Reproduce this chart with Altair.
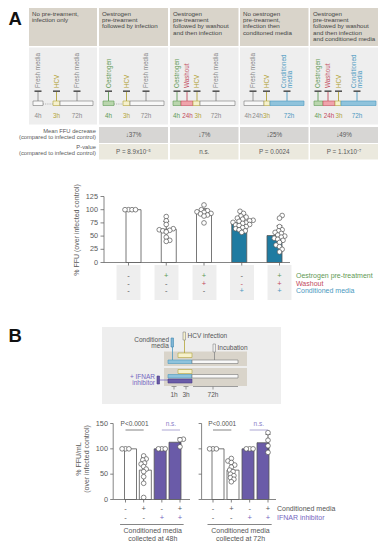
import altair as alt
import pandas as pd
import numpy as np

FONT = "Liberation Sans"
GRAY = "#5a5a5a"
M = 8
W, H = 370, 534

# ------------------------------------------------------------------ data
scenario_titles = [
    ["No pre-treament,", "infection only"],
    ["Oestrogen", "pre-treament", "followed by infection"],
    ["Oestrogen", "pre-treament", "followed by washout", "and then infection"],
    ["No oestrogen", "pre-treament,", "infection then", "conditoned media"],
    ["Oestrogen", "pre-treament", "followed by washout", "and then infection", "and conditioned media"],
]
row_labels = [["Mean FFU decrease", "(compared to infected control)"],
              ["P-value", "(compared to infected control)"]]
mean_decrease = ["↓37%", "↓7%", "↓25%", "↓49%"]
p_values = ["P = 8.9x10⁻⁵", "n.s.", "P = 0.0024", "P = 1.1x10⁻⁷"]

a_means = [100, 63, 93, 75, 51]
a_points = [
    [100, 100, 100, 100],
    [87, 79, 72, 64, 62, 61, 60, 58, 48, 42, 40],
    [109, 100, 98, 96, 95, 93, 92, 90, 88, 75],
    [97, 93, 88, 86, 84, 82, 80, 79, 78, 76, 75, 74, 72, 71, 70, 68, 66, 64, 62, 60, 57],
    [89, 84, 68, 62, 60, 57, 55, 52, 50, 48, 46, 44, 42, 38, 33, 30, 25, 20],
]
a_filled = [False, False, False, True, True]
a_ticks = [0, 25, 50, 75, 100, 125]
a_ytitle = "% FFU (over infected control)"
a_rows = ["Oestrogen pre-treatment", "Washout", "Conditioned media"]
a_signs = [["-", "+", "+", "-", "+"],
           ["-", "-", "+", "-", "+"],
           ["-", "-", "-", "+", "+"]]

b_groups = ["Conditioned media|collected at 48h", "Conditioned media|collected at 72h"]
b_means = [[100, 58, 100, 113], [100, 58, 100, 112]]
b_points = [
    [[100, 100, 100], [86, 80, 78, 72, 70, 65, 60, 55, 45, 32, 4], [100, 100, 100], [119, 118, 104]],
    [[100, 100, 100], [81, 76, 73, 68, 64, 58, 55, 50, 47, 43, 40, 35], [100, 100, 100], [132, 117, 106, 93]],
]
b_filled = [False, False, True, True]
b_ticks = [0, 50, 100, 150]
b_ytitle = ["% FFU/mL", "(over infected control)"]
b_rows = ["Conditioned media", "IFNAR inhibitor"]
b_signs = [["-", "+", "-", "+"], ["-", "-", "+", "+"]]
b_sig = [["P<0.0001", "n.s."], ["P<0.0001", "n.s."]]

# ------------------------------------------------------------------ style
TEAL = "#1f7ba1"
PURPLE = "#6a5ba8"
TAN = "#d9d4ca"
LIGHT = "#eeeeee"
C = {
    "green": ("#5f9a55", "#b9d6ad"),
    "red": ("#c24a5c", "#f0a3ab"),
    "yellow": ("#b3a43a", "#f6f1cc"),
    "gray": ("#8a8a8a", "#f8f8f8"),
    "blue": ("#4a98c0", "#8fc3dc"),
    "purple": ("#7565c0", "#6a5ba8"),
}

XS = alt.Scale(domain=[M, M + W], range=[0, W], nice=False, zero=False)
YS = alt.Scale(domain=[M, M + H], range=[0, H], nice=False, zero=False)
PX = alt.Scale(domain=[0, H], range=[0, H], nice=False, zero=False)

layers = []


def T(rows, align="center", baseline="middle", size=6.5, angle=0, style="normal", weight="normal"):
    df = pd.DataFrame(rows, columns=["x", "y", "t", "c"])
    return alt.Chart(df).mark_text(align=align, baseline=baseline, fontSize=size, angle=angle,
                                   fontStyle=style, fontWeight=weight, font=FONT).encode(
        x=alt.X("x:Q", scale=XS, axis=None), y=alt.Y("y:Q", scale=YS, axis=None),
        text="t:N", color=alt.Color("c:N", scale=None))


def R(rows, width=0.8, dash=None):
    df = pd.DataFrame(rows, columns=["x", "y", "x2", "y2", "c"])
    mk = dict(strokeWidth=width)
    if dash:
        mk["strokeDash"] = dash
    return alt.Chart(df).mark_rule(**mk).encode(
        x=alt.X("x:Q", scale=XS, axis=None), y=alt.Y("y:Q", scale=YS, axis=None),
        x2="x2:Q", y2="y2:Q", color=alt.Color("c:N", scale=None))


def BX(rows, sw=0.6):
    df = pd.DataFrame(rows, columns=["x", "y", "x2", "y2", "f", "s"])
    return alt.Chart(df).mark_rect(strokeWidth=sw).encode(
        x=alt.X("x:Q", scale=XS, axis=None), y=alt.Y("y:Q", scale=YS, axis=None),
        x2="x2:Q", y2="y2:Q", fill=alt.Fill("f:N", scale=None), stroke=alt.Stroke("s:N", scale=None))


def POLY(rows, color):
    df = pd.DataFrame(rows, columns=["id", "k", "y", "xl", "xr"])
    return alt.Chart(df).mark_area(orient="horizontal", color=color).encode(
        y=alt.Y("y:Q", scale=YS, axis=None), x=alt.X("xl:Q", scale=XS, axis=None),
        x2="xr:Q", detail="id:N", order="k:Q")


def swarm(vals, ky, kx, d):
    placed, offs = [], [0.0] * len(vals)
    flip = 1
    for i in sorted(range(len(vals)), key=lambda k: vals[k]):
        y = vals[i] * ky
        best = None
        for step in range(0, 60):
            for sgn in ([0] if step == 0 else [flip, -flip]):
                x = sgn * step * d * 0.25
                if all((x - px) ** 2 + (y - py) ** 2 >= d ** 2 for px, py in placed):
                    best = x
                    break
            if best is not None:
                break
        if best != 0:
            flip = -flip
        placed.append((best, y))
        offs[i] = best / kx
    return offs


# ------------------------------------------------------------------ panel A header table
cols = [(29, 97), (99, 168), (170, 238.5), (240, 308.5), (310, 378)]
ctr = [(a + b) / 2 for a, b in cols]
a_bx = [128.5, 166.5, 204.5, 242, 279.5]   # bar centres (px) for funnel shapes

fun = []
for j, ((a, b), bc) in enumerate(zip(cols, a_bx)):
    fun += [(j, 0, 160, a, b), (j, 1, 172, a + (bc - 12 - a) * 0.25, b + (bc + 12 - b) * 0.25),
            (j, 2, 206, bc - 12, bc + 12)]
layers.append(POLY(fun, "#efefef"))
layers.append(BX([(bc - 12, 265, bc + 12, 300, "#eeeeee", "transparent") for bc in a_bx]))

layers.append(BX([(a, 8, b, 46, TAN, "transparent") for a, b in cols]))
layers.append(BX([(a, 47.5, b, 124.5, LIGHT, "transparent") for a, b in cols]))
layers.append(BX([(a, 127, b, 143, "#d7d6d4", "transparent") for a, b in cols[1:]]
                 + [(a, 144, b, 159.5, "#ebe9de", "transparent") for a, b in cols[1:]]))

title_rows = []
for (a, b), lines in zip(cols, scenario_titles):
    for k, ln in enumerate(lines):
        title_rows.append((a + 3, 13.5 + k * 6.4, ln, "#444444"))
layers.append(T(title_rows, align="left", size=6.2))

lab_rows = []
for r, lines in enumerate(row_labels):
    base = 131 if r == 0 else 147
    lab_rows += [(96, base, lines[0], GRAY), (96, base + 5.6, lines[1], GRAY)]
layers.append(T(lab_rows, align="right", size=5.8))
layers.append(T([(c, 135, v, GRAY) for c, v in zip(ctr[1:], mean_decrease)]
                + [(c, 151.5, v, GRAY) for c, v in zip(ctr[1:], p_values)], size=6.3))

diagrams = [
    dict(boxes=[(33, 43, "gray"), (53, 60, "yellow"), (60, 93, "gray")], dots=[(43, 53)],
         labels=[(38, "Fresh media", "gray"), (56.5, "HCV", "yellow"), (77, "Fresh media", "gray")],
         times=[(38, "4h", "gray"), (56.5, "3h", "yellow"), (77, "72h", "gray")]),
    dict(boxes=[(103, 114, "green"), (123, 130, "yellow"), (130, 164, "gray")], dots=[(114, 123)],
         labels=[(108.5, "Oestrogen", "green"), (126.5, "HCV", "yellow"), (146, "Fresh media", "gray")],
         times=[(108.5, "4h", "green"), (126.5, "3h", "yellow"), (146, "72h", "gray")]),
    dict(boxes=[(173, 181, "green"), (181, 193, "red"), (193, 200, "yellow"), (200, 235, "gray")], dots=[],
         labels=[(177, "Oestrogen", "green"), (187, "Washout", "red"), (197, "HCV", "yellow"),
                 (216, "Fresh media", "gray")],
         times=[(176.5, "4h", "green"), (187.5, "24h", "red"), (198, "3h", "yellow"), (216, "72h", "gray")]),
    dict(boxes=[(244, 264, "gray"), (264, 270, "yellow"), (270, 304, "blue")], dots=[],
         labels=[(253, "Fresh media", "gray"), (266.5, "HCV", "yellow"), (287, "Conditioned|media", "blue")],
         times=[(248, "4h", "gray"), (257.5, "24h", "gray"), (266.5, "3h", "yellow"), (289, "72h", "blue")]),
    dict(boxes=[(314, 323, "green"), (323, 335, "red"), (335, 341, "yellow"), (341, 376, "blue")], dots=[],
         labels=[(318, "Oestrogen", "green"), (328, "Washout", "red"), (338.5, "HCV", "yellow"),
                 (357, "Conditioned|media", "blue")],
         times=[(318, "4h", "green"), (329, "24h", "red"), (339, "3h", "yellow"), (357, "72h", "blue")]),
]
box_rows, dot_rows, stem_rows, bar_rows, lab_r, time_r = [], [], [], [], [], []
for d in diagrams:
    for x1, x2, c in d["boxes"]:
        box_rows.append((x1, 101, x2, 105.5, C[c][1], C[c][0] if c != "gray" else "#777777"))
    for x1, x2 in d["dots"]:
        dot_rows.append((x1, 104, x2, 104, "#999999"))
    for x, t, c in d["labels"]:
        stem_rows.append((x, 91.5, x, 101, C[c][0]))
        bar_rows.append((x - 3.5, 91.2, x + 3.5, 91.2, "#555555"))
        parts = t.split("|")
        if len(parts) == 1:
            lab_r.append((x, 88, t, C[c][0]))
        else:
            lab_r.append((x - 3, 88, parts[0], C[c][0]))
            lab_r.append((x + 3, 88, parts[1], C[c][0]))
    for x, t, c in d["times"]:
        time_r.append((x, 116, t, C[c][0]))
layers.append(R(dot_rows, width=0.8, dash=[1, 1.2]))
layers.append(R(stem_rows, width=0.9))
layers.append(R(bar_rows, width=1.6))
layers.append(BX(box_rows, sw=0.6))
layers.append(T(lab_r, align="left", size=6.3, angle=270))
layers.append(T(time_r, size=6.3))

layers.append(T([(8.5, 25, "A", "#111111"), (8.5, 341.5, "B", "#111111")], align="left",
                baseline="alphabetic", size=18.5, weight="bold"))

# ------------------------------------------------------------------ panel A bar chart
AX = alt.Scale(domain=[0, 4], range=[128.5 - M, 279.5 - M], nice=False, zero=False)
AY = alt.Scale(domain=[0, 125], range=[262.5 - M, 196.5 - M], nice=False, zero=False)
a_kx = (279.5 - 128.5) / 4
a_ky = 66 / 125

dfA = pd.DataFrame({"i": range(5), "mean": a_means, "zero": 0,
                    "fill": [TEAL if f else "white" for f in a_filled]})
sd = [float(np.std(p, ddof=1)) for p in a_points]
dfA["lo"] = [m - s for m, s in zip(a_means, sd)]
dfA["hi"] = [m + s for m, s in zip(a_means, sd)]
dfA["cl"] = dfA["i"] - 3 / a_kx
dfA["cr"] = dfA["i"] + 3 / a_kx

layers.append(alt.Chart(dfA).mark_bar(size=15, stroke="#555555", strokeWidth=0.8).encode(
    x=alt.X("i:Q", scale=AX, axis=None), y=alt.Y("mean:Q", scale=AY, axis=None), y2="zero:Q",
    fill=alt.Fill("fill:N", scale=None)))
layers.append(alt.Chart(dfA).mark_rule(color="#444444", strokeWidth=0.8).encode(
    x=alt.X("i:Q", scale=AX, axis=None), y=alt.Y("lo:Q", scale=AY, axis=None), y2="hi:Q"))
layers.append(alt.Chart(dfA).mark_rule(color="#444444", strokeWidth=0.8).encode(
    x=alt.X("cl:Q", scale=AX, axis=None), x2="cr:Q", y=alt.Y("hi:Q", scale=AY, axis=None)))

pts = []
for i, vals in enumerate(a_points):
    offs = swarm(vals, a_ky, a_kx, 3.5)
    pts += [{"x": i + o, "v": v} for v, o in zip(vals, offs)]
layers.append(alt.Chart(pd.DataFrame(pts)).mark_circle(size=22, fill="white", stroke="#555555",
                                                       strokeWidth=0.7, opacity=1).encode(
    x=alt.X("x:Q", scale=AX, axis=None), y=alt.Y("v:Q", scale=AY, axis=None)))

dft = pd.DataFrame({"v": a_ticks, "t": [str(v) for v in a_ticks]})
layers.append(alt.Chart(dft).mark_rule(color="#666666", strokeWidth=0.8).encode(
    x=alt.value(100.5 - M), x2=alt.value(104 - M), y=alt.Y("v:Q", scale=AY, axis=None)))
layers.append(alt.Chart(dft).mark_text(align="right", baseline="middle", fontSize=7.3, font=FONT,
                                       color=GRAY).encode(
    x=alt.value(98 - M), y=alt.Y("v:Q", scale=AY, axis=None), text="t:N"))
layers.append(R([(104, 262.5, 104, 196.5, "#666666"), (104, 262.5, 290, 262.5, "#666666")]))
layers.append(alt.Chart(dfA).mark_rule(color="#666666", strokeWidth=0.8).encode(
    x=alt.X("i:Q", scale=AX, axis=None), y=alt.value(262.5 - M), y2=alt.value(265.5 - M)))
layers.append(T([(76.5, 230, a_ytitle, GRAY)], size=7, angle=270))

sign_rows = []
row_cols = ["green", "red", "blue"]
for r, signs in enumerate(a_signs):
    for i, s in enumerate(signs):
        col = C[row_cols[r]][0] if (s == "+" or (r == 1 and i == 3)) else "#555555"
        sign_rows.append({"i": i, "y": 276 + r * 7.6 - M, "t": s, "c": col})
layers.append(alt.Chart(pd.DataFrame(sign_rows)).mark_text(fontSize=7.5, font=FONT, baseline="middle").encode(
    x=alt.X("i:Q", scale=AX, axis=None), y=alt.Y("y:Q", scale=PX, axis=None),
    text="t:N", color=alt.Color("c:N", scale=None)))
layers.append(T([(296, 276 + r * 7.6, t, C[row_cols[r]][0]) for r, t in enumerate(a_rows)], align="left", size=7))

# ------------------------------------------------------------------ panel B diagram
layers.append(BX([(102, 327, 281, 404, LIGHT, "transparent"),
                  (164, 351.5, 247, 366, TAN, "transparent"),
                  (164, 368, 247, 386, TAN, "transparent")]))
layers.append(R([(172.5, 347, 172.5, 360, C["blue"][0]), (184.5, 340, 184.5, 353, C["yellow"][0]),
                 (214.5, 352, 214.5, 360, "#888888"), (159.5, 380, 168, 380, C["purple"][0])]))
layers.append(BX([(178, 353, 192, 357.5, C["yellow"][1], C["yellow"][0]),
                  (168, 360, 192, 363.5, C["blue"][1], C["blue"][0]),
                  (192, 360, 238, 363.5, "#f8f8f8", "#777777"),
                  (178, 369.5, 192, 373.5, C["yellow"][1], C["yellow"][0]),
                  (168, 374.5, 192, 378, C["blue"][1], C["blue"][0]),
                  (192, 374.5, 238, 378, "#f8f8f8", "#777777"),
                  (168, 379, 192, 383, PURPLE, "#4a3d88"),
                  (171, 338, 173.5, 347, "#7fb6d6", "#3f88b0"),
                  (183, 332, 185.5, 340, C["yellow"][1], "#888888"),
                  (213, 344, 215.5, 352, "#eeeeee", "#888888"),
                  (157, 376, 159.5, 384, PURPLE, "#4a3d88")]))
layers.append(T([(169, 340, "Conditioned", "#555555"), (169, 345.5, "media", "#555555"),
                 (155, 377, "+ IFNAR", C["purple"][0]), (155, 383, "inhibitor", C["purple"][0])],
                align="right", size=6.5))
layers.append(T([(187.5, 336, "HCV infection", "#555555"), (217.5, 348, "Incubation", "#555555")],
                align="left", size=6.5))
layers.append(R([(171.5, 386.5, 176.5, 386.5, "#777777"), (174, 386.5, 174, 389.5, "#777777"),
                 (183.5, 386.5, 188.5, 386.5, "#777777"), (186, 386.5, 186, 389.5, "#777777"),
                 (193, 386.5, 238, 386.5, "#777777"), (213, 386.5, 213, 389.5, "#777777")], width=0.7))
layers.append(T([(174, 394.5, "1h", "#555555"), (186, 394.5, "3h", "#555555"), (213, 394.5, "72h", "#555555")],
                size=6.5))

# ------------------------------------------------------------------ panel B bar charts
BY = alt.Scale(domain=[0, 150], range=[499.5 - M, 423.5 - M], nice=False, zero=False)
b_ky = 76 / 150
b_pos = [(125.5, 180), (213, 268)]
b_axis_x = [113.2, 201.6]
b_base_end = [190, 276]
for g in range(2):
    x0, x1 = b_pos[g]
    BXs = alt.Scale(domain=[0, 3], range=[x0 - M, x1 - M], nice=False, zero=False)
    kx = (x1 - x0) / 3
    sdb = [float(np.std(p, ddof=1)) for p in b_points[g]]
    df = pd.DataFrame({"i": range(4), "mean": b_means[g], "zero": 0,
                       "fill": [PURPLE if f else "white" for f in b_filled]})
    df["lo"] = [m - s for m, s in zip(b_means[g], sdb)]
    df["hi"] = [m + s for m, s in zip(b_means[g], sdb)]
    df["cl"] = df["i"] - 2.5 / kx
    df["cr"] = df["i"] + 2.5 / kx
    layers.append(alt.Chart(df).mark_bar(size=12, stroke="#555555", strokeWidth=0.8).encode(
        x=alt.X("i:Q", scale=BXs, axis=None), y=alt.Y("mean:Q", scale=BY, axis=None), y2="zero:Q",
        fill=alt.Fill("fill:N", scale=None)))
    layers.append(alt.Chart(df).mark_rule(color="#444444", strokeWidth=0.8).encode(
        x=alt.X("i:Q", scale=BXs, axis=None), y=alt.Y("lo:Q", scale=BY, axis=None), y2="hi:Q"))
    layers.append(alt.Chart(df).mark_rule(color="#444444", strokeWidth=0.8).encode(
        x=alt.X("cl:Q", scale=BXs, axis=None), x2="cr:Q", y=alt.Y("hi:Q", scale=BY, axis=None)))
    pts = []
    for i, vals in enumerate(b_points[g]):
        offs = swarm(vals, b_ky, kx, 3.4)
        pts += [{"x": i + o, "v": v} for v, o in zip(vals, offs)]
    layers.append(alt.Chart(pd.DataFrame(pts)).mark_circle(size=22, fill="white", stroke="#555555",
                                                           strokeWidth=0.7, opacity=1).encode(
        x=alt.X("x:Q", scale=BXs, axis=None), y=alt.Y("v:Q", scale=BY, axis=None)))
    ax = b_axis_x[g]
    layers.append(R([(ax, 499.5, ax, 423.5, "#666666"), (ax, 499.5, b_base_end[g], 499.5, "#666666")]))
    dft = pd.DataFrame({"v": b_ticks, "t": [str(v) for v in b_ticks]})
    layers.append(alt.Chart(dft).mark_rule(color="#666666", strokeWidth=0.8).encode(
        x=alt.value(ax - 3 - M), x2=alt.value(ax - M), y=alt.Y("v:Q", scale=BY, axis=None)))
    if g == 0:
        layers.append(alt.Chart(dft).mark_text(align="right", baseline="middle", fontSize=7.3, font=FONT,
                                               color=GRAY).encode(
            x=alt.value(108 - M), y=alt.Y("v:Q", scale=BY, axis=None), text="t:N"))
    layers.append(alt.Chart(df).mark_rule(color="#666666", strokeWidth=0.8).encode(
        x=alt.X("i:Q", scale=BXs, axis=None), y=alt.value(499.5 - M), y2=alt.value(502.5 - M)))
    sig = pd.DataFrame({"a": [0, 2], "b": [1, 3], "m": [0.5, 2.5], "t": b_sig[g],
                        "c": ["#555555", "#8a80c8"], "lc": ["#666666", "#9a92c8"]})
    layers.append(alt.Chart(sig).mark_rule(strokeWidth=0.8).encode(
        x=alt.X("a:Q", scale=BXs, axis=None), x2="b:Q", y=alt.value(430 - M),
        color=alt.Color("lc:N", scale=None)))
    layers.append(alt.Chart(sig).mark_text(fontSize=6.5, font=FONT, baseline="middle").encode(
        x=alt.X("m:Q", scale=BXs, axis=None), y=alt.value(423.5 - M), text="t:N",
        color=alt.Color("c:N", scale=None)))
    srows = []
    for r, signs in enumerate(b_signs):
        for i, s in enumerate(signs):
            srows.append({"i": i, "yy": 508.5 + r * 9 - M, "t": s,
                          "c": C["purple"][0] if (r == 1 and s == "+") else "#555555"})
    layers.append(alt.Chart(pd.DataFrame(srows)).mark_text(fontSize=7.5, font=FONT, baseline="middle").encode(
        x=alt.X("i:Q", scale=BXs, axis=None), y=alt.Y("yy:Q", scale=PX, axis=None),
        text="t:N", color=alt.Color("c:N", scale=None)))
    grp = pd.DataFrame({"a": [-0.3], "b": [3.2], "m": [1.5]})
    layers.append(alt.Chart(grp).mark_rule(color="#666666", strokeWidth=0.8).encode(
        x=alt.X("a:Q", scale=BXs, axis=None), x2="b:Q", y=alt.value(524.5 - M)))
    gl = b_groups[g].split("|")
    gdf = pd.DataFrame({"m": [1.5, 1.5], "yy": [531 - M, 538.5 - M], "t": gl})
    layers.append(alt.Chart(gdf).mark_text(fontSize=7, font=FONT, baseline="middle", color="#555555").encode(
        x=alt.X("m:Q", scale=BXs, axis=None), y=alt.Y("yy:Q", scale=PX, axis=None), text="t:N"))

layers.append(T([(277, 508.5, b_rows[0], "#555555"), (277, 517.5, b_rows[1], C["purple"][0])],
                align="left", size=7))
layers.append(T([(78.5, 459, b_ytitle[0], GRAY), (86.5, 459, b_ytitle[1], GRAY)], size=7, angle=270))

chart = alt.layer(*layers).resolve_scale(x="independent", y="independent").properties(
    width=W, height=H, padding=0, autosize=alt.AutoSizeParams(type="none"), background="white"
).configure_view(stroke=None)

chart.save("out.html", embed_options={"renderer": "svg", "actions": False})
